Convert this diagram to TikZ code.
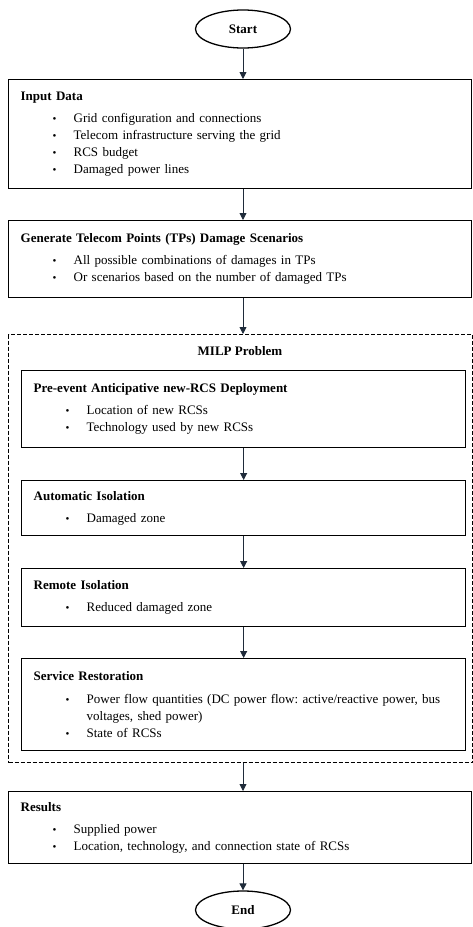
\documentclass[tikz,border=0pt]{standalone}
\usepackage{fontspec}
\setmainfont{Liberation Serif}
\usetikzlibrary{shapes.geometric,arrows.meta}
\frenchspacing

\definecolor{flowcol}{HTML}{1F2B3A}
\newcommand{\bul}[1]{\hspace*{32pt}\makebox[21pt][l]{\fontsize{11}{11}\selectfont\textbullet}#1}
\newcommand{\cont}[1]{\hspace*{53pt}#1}

\tikzset{
	stepbox/.style={draw, rectangle, line width=1.3pt, anchor=north west,
		inner xsep=12pt, inner ysep=0pt, minimum height=#1, align=left,
		font=\fontsize{13}{17.2}\selectfont},
	term/.style={draw, ellipse, line width=1.3pt, minimum width=95pt,
		minimum height=38pt, inner sep=0pt, font=\fontsize{13}{15}\selectfont\bfseries},
	milpbox/.style={draw, rectangle, line width=1.2pt, dash pattern=on 4pt off 2pt,
		anchor=north west, inner sep=0pt, minimum width=464pt, minimum height=428pt},
	flow/.style={draw=flowcol, line width=0.9pt, -{Triangle[length=7pt,width=7pt]}}
}

\begin{document}
\begin{tikzpicture}[x=1pt,y=-1pt]
	\useasboundingbox (0,0) rectangle (473,927);
	\node[term] (start) at (243,29) {Start};
	\node[stepbox=109pt, text width=439pt] (input) at (8,79) {\textbf{Input Data}\\[5pt]
		\bul{Grid configuration and connections}\\
		\bul{Telecom infrastructure serving the grid}\\
		\bul{RCS budget}\\
		\bul{Damaged power lines}};
	\node[stepbox=77pt, text width=439pt] (gen) at (8,220) {\textbf{Generate Telecom Points (TPs) Damage Scenarios}\\[5pt]
		\bul{All possible combinations of damages in TPs}\\
		\bul{Or scenarios based on the number of damaged TPs}};
	% MILP part
	\node[milpbox] (milp) at (8,334) {};
	\node[font=\fontsize{13}{15}\selectfont\bfseries] (milptitle) at (240,351) {MILP Problem};
	\node[stepbox=77pt, text width=420pt] (pre) at (21,370) {\textbf{Pre-event Anticipative new-RCS Deployment}\\[5pt]
		\bul{Location of new RCSs}\\
		\bul{Technology used by new RCSs}};
	\node[stepbox=55pt, text width=420pt] (auto) at (21,480) {\textbf{Automatic Isolation}\\[5pt]
		\bul{Damaged zone}};
	\node[stepbox=58pt, text width=420pt] (remote) at (21,568) {\textbf{Remote Isolation}\\[5pt]
		\bul{Reduced damaged zone}};
	\node[stepbox=92pt, text width=420pt] (serv) at (21,658) {\textbf{Service Restoration}\\[5pt]
		\bul{Power flow quantities (DC power flow: active/reactive power, bus}\\
		\cont{voltages, shed power)}\\
		\bul{State of RCSs}};
	\node[stepbox=72pt, text width=439pt] (res) at (8,791) {\textbf{Results}\\[5pt]
		\bul{Supplied power}\\
		\bul{Location, technology, and connection state of RCSs}};
	\node[term] (end) at (243,910) {End};

	\draw[flow] (start) -- (start |- input.north);
	\draw[flow] (start |- input.south) -- (start |- gen.north);
	\draw[flow] (start |- gen.south) -- (start |- milp.north);
	\draw[flow] (pre) -- (auto);
	\draw[flow] (auto) -- (remote);
	\draw[flow] (remote) -- (serv);
	\draw[flow] (start |- milp.south) -- (start |- res.north);
	\draw[flow] (start |- res.south) -- (end);
\end{tikzpicture}
\end{document}
